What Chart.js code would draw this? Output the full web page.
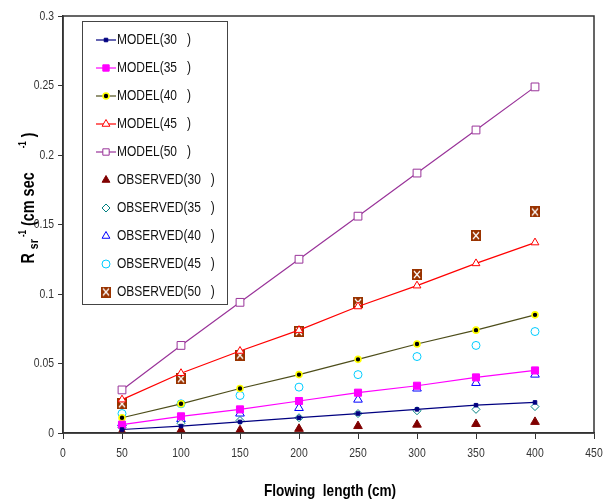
<!DOCTYPE html>
<html lang="en">
<head>
    <meta charset="UTF-8">
    <title>Flowing length vs R sr</title>
    <script src="https://cdn.jsdelivr.net/npm/chart.js"></script>
    <style>
        html, body {
            margin: 0;
            padding: 0;
            background: #fff;
        }
        .chart-box {
            width: 603px;
            height: 501px;
            position: relative;
        }
    </style>
</head>
<body>
    <div class="chart-box">
        <canvas id="rsrChart"></canvas>
    </div>

    <script>
        // Data
        const lengths = [50, 100, 150, 200, 250, 300, 350, 400];
        const model30 = [0.0025, 0.005, 0.008, 0.011, 0.014, 0.017, 0.020, 0.022];
        const model35 = [0.006, 0.012, 0.017, 0.023, 0.029, 0.034, 0.040, 0.045];
        const model40 = [0.011, 0.021, 0.032, 0.042, 0.053, 0.064, 0.074, 0.085];
        const model45 = [0.024, 0.043, 0.059, 0.074, 0.091, 0.106, 0.122, 0.137];
        const model50 = [0.031, 0.063, 0.094, 0.125, 0.156, 0.187, 0.218, 0.249];
        const observed30 = [0.001, 0.002, 0.002, 0.003, 0.005, 0.006, 0.0065, 0.008];
        const observed35 = [0.004, 0.007, 0.009, 0.011, 0.014, 0.016, 0.017, 0.019];
        const observed40 = [0.007, 0.010, 0.014, 0.018, 0.024, 0.032, 0.036, 0.042];
        const observed45 = [0.014, 0.021, 0.027, 0.033, 0.042, 0.055, 0.063, 0.073];
        const observed50 = [0.021, 0.039, 0.056, 0.073, 0.094, 0.114, 0.142, 0.159];

        const FONT = "'Liberation Sans', Arial, sans-serif";
        const NARROW = 0.8;   // squeeze text sideways to look like a narrow face

        const toPoints = arr => arr.map((v, i) => ({ x: lengths[i], y: v }));

        // brown square with a white cross for OBSERVED(50)
        const crossBox = document.createElement('canvas');
        crossBox.width = 10;
        crossBox.height = 11;
        (function () {
            const c = crossBox.getContext('2d');
            c.fillStyle = '#993300';
            c.fillRect(0, 0, 10, 11);
            c.strokeStyle = '#fff';
            c.lineWidth = 1.2;
            c.beginPath();
            c.moveTo(2, 2); c.lineTo(8, 9);
            c.moveTo(8, 2); c.lineTo(2, 9);
            c.stroke();
        })();

        function modelSet(label, data, color, pt) {
            return Object.assign({
                label: label,
                data: toPoints(data),
                showLine: true,
                borderColor: color,
                borderWidth: 1.2,
                pointBorderWidth: 1
            }, pt);
        }

        function obsSet(label, data, pt) {
            return Object.assign({
                label: label,
                data: toPoints(data),
                showLine: false,
                pointBorderWidth: 1
            }, pt);
        }

        const datasets = [
            modelSet('MODEL(30   )', model30, '#000080', { pointStyle: 'rect', pointRadius: 2.5, pointBackgroundColor: '#000080', pointBorderColor: '#000080' }),
            modelSet('MODEL(35   )', model35, '#FF00FF', { pointStyle: 'rect', pointRadius: 5, pointBackgroundColor: '#FF00FF', pointBorderColor: '#FF00FF' }),
            modelSet('MODEL(40   )', model40, '#4D4D1A', { pointStyle: 'circle', pointRadius: 3, pointBackgroundColor: '#000', pointBorderColor: '#FFFF00', pointBorderWidth: 1.6 }),
            modelSet('MODEL(45   )', model45, '#FF0000', { pointStyle: 'triangle', pointRadius: 4.5, pointBackgroundColor: '#fff', pointBorderColor: '#FF0000' }),
            modelSet('MODEL(50   )', model50, '#993399', { pointStyle: 'rect', pointRadius: 5.5, pointBackgroundColor: '#fff', pointBorderColor: '#993399' }),
            obsSet('OBSERVED(30   )', observed30, { pointStyle: 'triangle', pointRadius: 5, pointBackgroundColor: '#800000', pointBorderColor: '#800000' }),
            obsSet('OBSERVED(35   )', observed35, { pointStyle: 'rectRot', pointRadius: 4, pointBackgroundColor: '#fff', pointBorderColor: '#008080' }),
            obsSet('OBSERVED(40   )', observed40, { pointStyle: 'triangle', pointRadius: 5, pointBackgroundColor: 'rgba(255,255,255,0)', pointBorderColor: '#0000FF' }),
            obsSet('OBSERVED(45   )', observed45, { pointStyle: 'circle', pointRadius: 4, pointBackgroundColor: 'rgba(255,255,255,0)', pointBorderColor: '#00CCFF' }),
            obsSet('OBSERVED(50   )', observed50, { pointStyle: crossBox, pointRadius: 5 })
        ];

        function narrowText(ctx, text, x, y, align) {
            ctx.save();
            ctx.translate(x, y);
            ctx.scale(NARROW, 1);
            ctx.textAlign = align;
            ctx.fillText(text, 0, 0);
            ctx.restore();
        }

        // frame, tick labels, axis titles and the boxed legend
        const decorations = {
            id: 'decorations',
            afterDraw(chart) {
                const ctx = chart.ctx;
                const a = chart.chartArea;
                ctx.save();

                // plot frame
                ctx.strokeStyle = '#333';
                ctx.lineWidth = 1.5;
                ctx.strokeRect(a.left, a.top, a.right - a.left, a.bottom - a.top);

                // tick labels, placed by the scales
                ctx.fillStyle = '#333';
                ctx.font = "13px " + FONT;
                ctx.textBaseline = 'middle';
                const xs = chart.scales.x;
                xs.ticks.forEach((t, i) => {
                    narrowText(ctx, String(t.value), xs.getPixelForTick(i), 453, 'center');
                });
                const ys = chart.scales.y;
                ys.ticks.forEach((t, i) => {
                    narrowText(ctx, String(Number(t.value.toFixed(2))), 54, ys.getPixelForTick(i), 'right');
                });

                // x title
                ctx.fillStyle = '#000';
                ctx.font = "bold 17px " + FONT;
                ctx.textBaseline = 'alphabetic';
                narrowText(ctx, 'Flowing  length (cm)', 330, 496, 'center');

                // y title, rotated, with sub/superscripts
                ctx.save();
                ctx.translate(34, 198);
                ctx.rotate(-Math.PI / 2);
                ctx.scale(NARROW, 1);
                const parts = [
                    { t: 'R ', size: 18, dy: 0 },
                    { t: 'sr', size: 13, dy: 4 },
                    { t: ' -1', size: 10, dy: -8 },
                    { t: ' (cm sec      ', size: 18, dy: 0 },
                    { t: '-1', size: 10, dy: -8 },
                    { t: ' )', size: 18, dy: 0 }
                ];
                let total = 0;
                parts.forEach(p => {
                    ctx.font = "bold " + p.size + "px " + FONT;
                    p.w = ctx.measureText(p.t).width;
                    total += p.w;
                });
                let px = -total / 2;
                ctx.textAlign = 'left';
                parts.forEach(p => {
                    ctx.font = "bold " + p.size + "px " + FONT;
                    ctx.fillText(p.t, px, p.dy);
                    px += p.w;
                });
                ctx.restore();

                // legend box
                const bx = 82, by = 21, bw = 145, bh = 283;
                ctx.fillStyle = '#fff';
                ctx.fillRect(bx, by, bw, bh);
                ctx.strokeStyle = '#444';
                ctx.lineWidth = 1;
                ctx.strokeRect(bx + 0.5, by + 0.5, bw, bh);

                ctx.font = "15px " + FONT;
                ctx.textBaseline = 'middle';
                chart.data.datasets.forEach((ds, i) => {
                    const y = 40 + i * 28;
                    const cx = 106;
                    if (ds.showLine) {
                        ctx.strokeStyle = ds.borderColor;
                        ctx.lineWidth = 1.2;
                        ctx.beginPath();
                        ctx.moveTo(96, y);
                        ctx.lineTo(116, y);
                        ctx.stroke();
                    }
                    ctx.fillStyle = ds.pointBackgroundColor || '#000';
                    ctx.strokeStyle = ds.pointBorderColor || '#000';
                    ctx.lineWidth = ds.pointBorderWidth;
                    Chart.helpers.drawPoint(ctx, {
                        pointStyle: ds.pointStyle,
                        radius: Math.min(ds.pointRadius, 4.5),
                        rotation: 0,
                        borderWidth: ds.pointBorderWidth
                    }, cx, y);
                    ctx.fillStyle = '#111';
                    narrowText(ctx, ds.label, 117, y, 'left');
                });

                ctx.restore();
            }
        };

        const ctx = document.getElementById('rsrChart').getContext('2d');
        new Chart(ctx, {
            type: 'scatter',
            data: { datasets: datasets },
            options: {
                responsive: true,
                maintainAspectRatio: false,
                animation: false,
                layout: {
                    padding: { left: 0, right: 9, top: 16, bottom: 0 }
                },
                plugins: {
                    legend: { display: false },
                    tooltip: { enabled: false }
                },
                scales: {
                    x: {
                        type: 'linear',
                        min: 0,
                        max: 450,
                        afterFit: s => { s.height = 68; },
                        ticks: {
                            stepSize: 50,
                            color: 'rgba(0,0,0,0)',
                            font: { family: FONT, size: 1 }
                        },
                        grid: {
                            drawOnChartArea: false,
                            tickLength: 6,
                            color: '#333'
                        },
                        border: { color: '#333', width: 1.5 }
                    },
                    y: {
                        type: 'linear',
                        min: 0,
                        max: 0.3,
                        afterFit: s => { s.width = 63; },
                        ticks: {
                            stepSize: 0.05,
                            color: 'rgba(0,0,0,0)',
                            font: { family: FONT, size: 1 }
                        },
                        grid: {
                            drawOnChartArea: false,
                            tickLength: 5,
                            color: '#333'
                        },
                        border: { color: '#333', width: 1.5 }
                    }
                }
            },
            plugins: [decorations]
        });
    </script>
</body>
</html>
